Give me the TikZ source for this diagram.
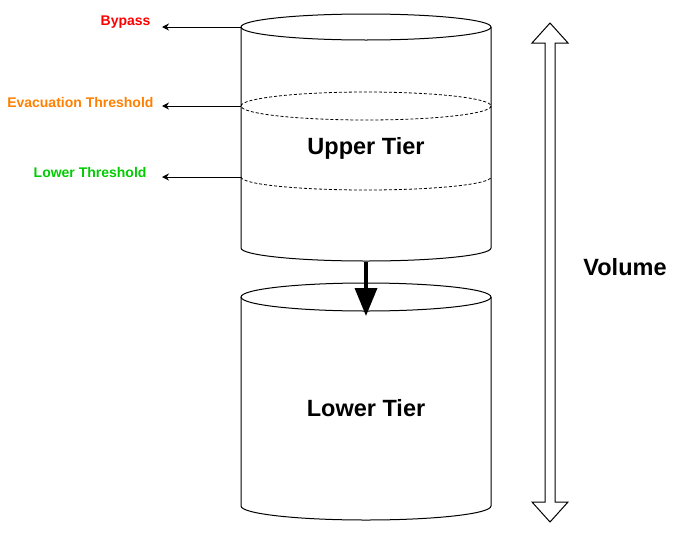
\documentclass[tikz,border=0pt]{standalone}
\usepackage{fontspec}
\setmainfont{Liberation Sans}
\usetikzlibrary{arrows.meta}
\definecolor{bypassred}{HTML}{FF0000}
\definecolor{evacorange}{HTML}{FF8000}
\definecolor{lowgreen}{HTML}{00CC00}
\tikzset{
  lvl/.style={line width=1pt,-{Stealth[length=7pt,width=7pt]}},
  lbl/.style={anchor=east,inner sep=0pt,font=\fontsize{14}{16}\bfseries\selectfont},
  tier/.style={font=\fontsize{23.5}{26}\bfseries\selectfont},
  dsh/.style={line width=0.8pt,dash pattern=on 3pt off 2pt},
  tierflow/.style={line width=3.5pt,-{Triangle[length=28pt,width=22pt]}}
}
\begin{document}
\begin{tikzpicture}[x=1pt,y=-1pt,line width=1pt]
      \useasboundingbox (0,0) rectangle (690,533);
      \draw (366,27) ellipse [x radius=125,y radius=13];
      \draw (241,27) -- (241,248) arc[start angle=180,end angle=0,x radius=125,y radius=13] -- (491,27);
      \draw[dsh] (366,106) ellipse [x radius=125,y radius=14];
      \draw[dsh] (241,177) arc[start angle=180,end angle=0,x radius=125,y radius=13];
      \draw (366,297) ellipse [x radius=125,y radius=14];
      \draw (241,297) -- (241,506) arc[start angle=180,end angle=0,x radius=125,y radius=14] -- (491,297);
      \draw (550,23) -- (568,43) -- (555,43) -- (555,502) -- (568,502) -- (550,522)
        -- (532,502) -- (545,502) -- (545,43) -- (532,43) -- cycle;
      \node[tier] (upper) at (366,148) {Upper Tier};
      \node[tier] (lower) at (366,408) {Lower Tier};
      \node[tier] (volume) at (625,267) {Volume};
      \node[lbl,text=bypassred] (bypass) at (151,22) {Bypass};
      \node[lbl,text=evacorange] (evac) at (154,102) {Evacuation Threshold};
      \node[lbl,text=lowgreen] (lowth) at (147,172) {Lower Threshold};
      \coordinate (bypassfrom) at (241,27);
      \coordinate (bypassto) at (162,27);
      \coordinate (evacfrom) at (241,106);
      \coordinate (evacto) at (162,106);
      \coordinate (lowfrom) at (241,177);
      \coordinate (lowto) at (162,177);
      \coordinate (upbot) at (366,262);
      \coordinate (lowtop) at (366,316);
      \begin{scope}[lvl]
        \draw (bypassfrom) to (bypassto);
        \draw (evacfrom) to (evacto);
        \draw (lowfrom) to (lowto);
      \end{scope}
      \draw[tierflow] (upbot) to (lowtop);
    \end{tikzpicture}
\end{document}
